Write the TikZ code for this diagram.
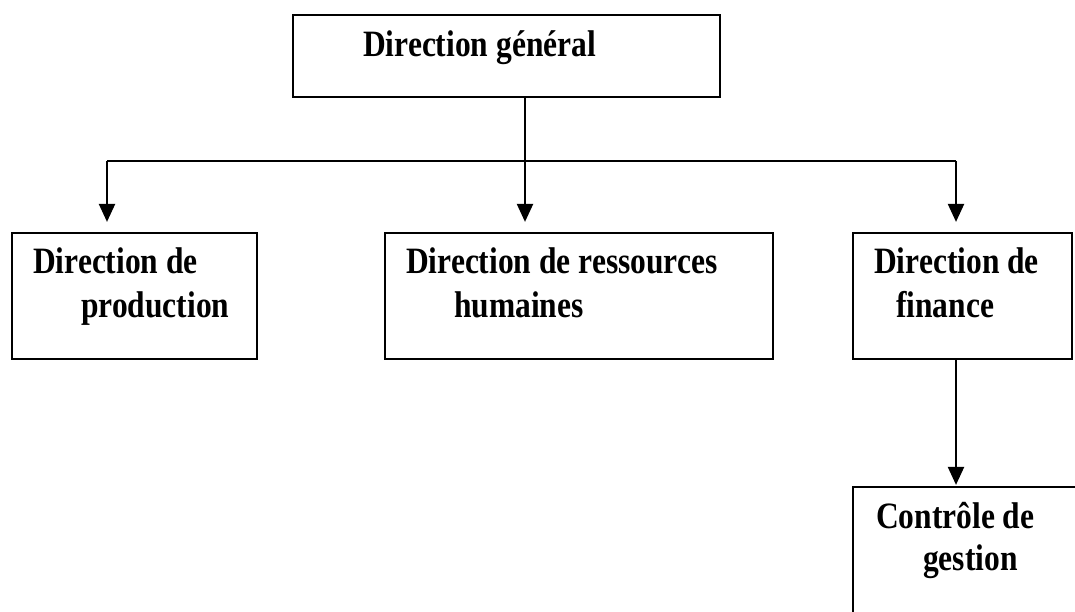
\documentclass[tikz,border=0pt]{standalone}
\usepackage{fontspec}
\setmainfont{Liberation Serif}
\usetikzlibrary{calc,arrows.meta}
\newcommand{\tallbox}[1]{\scalebox{1}[1.18]{#1}}

\begin{document}
\begin{tikzpicture}[x=1pt,y=-1pt,line width=2.2pt,
  unit/.style={draw,rectangle,inner sep=0pt},
  lbl/.style={anchor=base west,inner sep=0pt,font=\bfseries\fontsize{31.5}{38}\selectfont},
  down/.style={-{Triangle[length=18pt,width=16pt]},shorten >=#1},
  down/.default=10pt]
\useasboundingbox (0,0) rectangle (1075,612);
% boxes
\node[unit,minimum width=427pt,minimum height=82pt] (dg) at (506.5,56){};
\node[unit,minimum width=245pt,minimum height=126pt] (prod) at (134.5,296){};
\node[unit,minimum width=388pt,minimum height=126pt] (rh) at (579,296){};
\node[unit,minimum width=219pt,minimum height=126pt] (fin) at (962.5,296){};
\node[unit,minimum width=240pt,minimum height=160pt] (cg) at (973,567){};
% texts
\node[lbl] (dgtxt) at (362,57){\tallbox{Direction général}};
\node[lbl] (prodtxt1) at (32,273){\tallbox{Direction de}};
\node[lbl] (prodtxt2) at (80,317){\tallbox{production}};
\node[lbl] (rhtxt1) at (405,273){\tallbox{Direction de ressources}};
\node[lbl] (rhtxt2) at (453,317){\tallbox{humaines}};
\node[lbl] (fintxt1) at (873,273){\tallbox{Direction de}};
\node[lbl] (fintxt2) at (895,317){\tallbox{finance}};
\node[lbl] (cgtxt1) at (875,528){\tallbox{Contrôle de}};
\node[lbl] (cgtxt2) at (922,570){\tallbox{gestion}};
% links
\coordinate (split) at (525,161);
\coordinate (colA) at (107,161);
\coordinate (colC) at (956,161);
\draw (dg.south -| split) -- (split);
\draw (colA) -- (colC);
\draw[down] (colA) -- (colA |- prod.north);
\draw[down] (split) -- (split |- rh.north);
\draw[down] (colC) -- (colC |- fin.north);
\draw[down=1pt] (fin.south -| colC) -- (colC |- cg.north);
\end{tikzpicture}
\end{document}
